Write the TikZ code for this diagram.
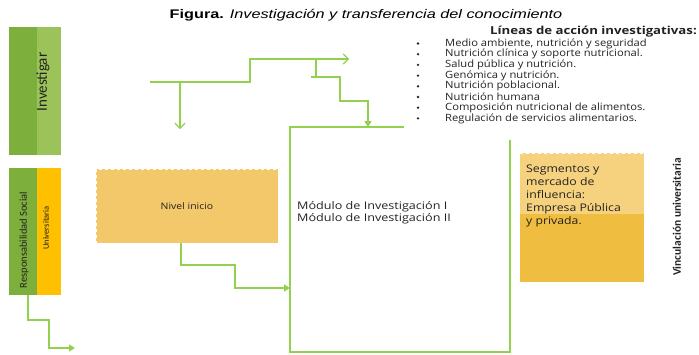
\documentclass[tikz,border=0pt]{standalone}
\usepackage{fontspec}
\usepackage{graphicx}
\setmainfont{Liberation Sans}
\newfontfamily\osans{Open Sans}
\newfontfamily\osA[FakeStretch=1.12]{Open Sans}
\newfontfamily\osB[FakeStretch=1.2]{Open Sans}
\newfontfamily\osC[FakeStretch=1.17]{Open Sans}
\newfontfamily\osD[FakeStretch=1.16]{Open Sans}
\newfontfamily\carl{Carlito}
\usetikzlibrary{arrows.meta}
\definecolor{lg}{HTML}{92D050}
\definecolor{gdark}{HTML}{7DAF3C}
\definecolor{glight}{HTML}{9CC35A}
\definecolor{orng}{HTML}{FFC000}
\definecolor{boxor}{HTML}{F3C86B}
\definecolor{rlight}{HTML}{F6D27E}
\definecolor{rdark}{HTML}{EFBD3F}
\definecolor{txt}{HTML}{222222}
\begin{document}
\begin{tikzpicture}[x=1pt,y=-1pt,
  conn/.style={draw=lg,line width=1.3pt},
  opentip/.style={-{Straight Barb[length=5pt,width=10pt,line width=1.2pt]}},
  filltip/.style={-{Triangle[length=6pt,width=7pt]}},
  vlabel/.style={rotate=90,inner sep=0pt,text=txt},
  listitem/.style={anchor=west,inner sep=0pt,font=\osA\fontsize{10}{10}\selectfont,text=txt},
  boxtext/.style={anchor=west,inner sep=0pt,font=\osB\fontsize{10.5}{11}\selectfont,text=txt}]
\useasboundingbox (0,0) rectangle (699,354);
% title
\node[inner sep=0pt,font=\fontsize{12.5}{14}\selectfont] (title) at (366,15) {\scalebox{1.3}[1]{\textbf{Figura.} \textit{Investigación y transferencia del conocimiento}}};
% left top bar
\fill[gdark] (9,27) rectangle (37,155);
\fill[glight] (37,27) rectangle (61,155);
\node[vlabel,font=\carl\fontsize{15}{15}\selectfont] (inv) at (43,82) {Investigar};
% left bottom bar
\fill[gdark] (9,168) rectangle (37,295);
\fill[orng] (37,168) rectangle (61,295);
\node[vlabel,font=\carl\fontsize{10.5}{10.5}\selectfont] (rs) at (24,240) {Responsabilidad Social};
\node[vlabel,font=\carl\fontsize{8.5}{8.5}\selectfont] (univ) at (46,228) {Universitaria};
\coordinate (lb) at (28,295);
\coordinate (lbe) at (75,348);
% middle box
\node[fill=boxor,draw=white,dashed,minimum width=182pt,minimum height=74pt,inner sep=0pt,font=\osD\fontsize{9}{9}\selectfont,text=txt] (mid) at (187,206) {Nivel inicio};
% big box
\coordinate (bbtl) at (290,127);
\draw[conn] (404,127) -- (bbtl) -- (290,352) -- (510,352) -- (510,140);
\node[boxtext] (m1) at (297,207) {Módulo de Investigación I};
\node[boxtext] (m2) at (297,219) {Módulo de Investigación II};
% right box
\fill[rlight] (520,153) rectangle (644,214);
\fill[rdark] (520,214) rectangle (644,282);
\draw[white,dashed] (520,153) -- (644,153) -- (644,282);
\node[inner sep=0pt,anchor=north west,align=left,font=\osC\fontsize{10.5}{13}\selectfont,text=txt] (seg) at (526,165) {Segmentos y\\mercado de\\influencia:\\Empresa Pública\\y privada.};
\node[vlabel,font=\carl\bfseries\fontsize{11.5}{11.5}\selectfont] (vinc) at (677,217) {Vinculación universitaria};
% list
\node[anchor=east,inner sep=0pt,font=\osB\bfseries\fontsize{11}{11}\selectfont,text=txt] (head) at (697,32) {Líneas de acción investigativas:};
\foreach \t [count=\i] in {{Medio ambiente, nutrición y seguridad}, Nutrición clínica y soporte nutricional., Salud pública y nutrición., Genómica y nutrición., Nutrición poblacional., Nutrición humana, Composición nutricional de alimentos., Regulación de servicios alimentarios.}{
  \node[listitem] (li\i) at (445,{43.5+10.7*(\i-1)}) {\t};
  \fill[txt] (418,{43.5+10.7*(\i-1)}) circle (1.3pt);
}
% top connectors
\coordinate (s1) at (150,82);
\coordinate (j1) at (180,82);
\coordinate (e1) at (349,59);
\coordinate (e2) at (180,129);
\coordinate (j2) at (316,59);
\draw[conn,opentip] (s1) -- (250,82) |- (e1);
\draw[conn,opentip] (j1) -- (e2);
\draw[conn] (j2) -- (316,77);
\draw[conn,filltip] (311,77) -- (340,77) -- (340,101) -- (368,101) -- (368,127);
% middle connector
\draw[conn,filltip] (mid.south -| 181,0) -- (181,265) -- (235,265) -- (235,288) -- (290,288);
% bottom left connector
\draw[conn,filltip] (lb) -- (28,320) -- (49,320) -- (49,348) -- (lbe);
\end{tikzpicture}
\end{document}
